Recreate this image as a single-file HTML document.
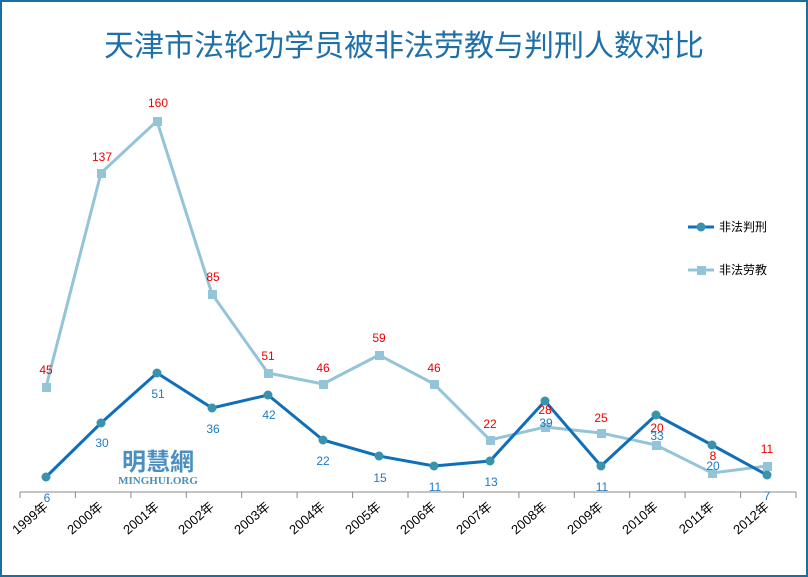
<!DOCTYPE html>
<html><head><meta charset="utf-8"><style>
body{margin:0;background:#fff}
svg{display:block;font-family:"Liberation Sans","Noto Sans CJK SC",sans-serif}
</style></head><body>
<svg width="808" height="577" viewBox="0 0 808 577">
<rect x="1" y="1" width="806" height="575" fill="#fff" stroke="#1a6fa0" stroke-width="2"/>
<text x="404" y="56" text-anchor="middle" font-size="30" fill="#1f6fa8">天津市法轮功学员被非法劳教与判刑人数对比</text>
<g stroke="#888" stroke-width="1">
<line x1="20" y1="492" x2="796" y2="492"/>
<path d="M20 492v6M75.4 492v6M130.9 492v6M186.3 492v6M241.7 492v6M297.1 492v6M352.6 492v6M408 492v6M463.4 492v6M518.9 492v6M574.3 492v6M629.7 492v6M685.1 492v6M740.6 492v6M796 492v6"/>
</g>
<g font-size="13" fill="#000">
<text transform="translate(49,508) rotate(-40)" text-anchor="end">1999年</text>
<text transform="translate(104,508) rotate(-40)" text-anchor="end">2000年</text>
<text transform="translate(160,508) rotate(-40)" text-anchor="end">2001年</text>
<text transform="translate(215,508) rotate(-40)" text-anchor="end">2002年</text>
<text transform="translate(271,508) rotate(-40)" text-anchor="end">2003年</text>
<text transform="translate(326,508) rotate(-40)" text-anchor="end">2004年</text>
<text transform="translate(382,508) rotate(-40)" text-anchor="end">2005年</text>
<text transform="translate(437,508) rotate(-40)" text-anchor="end">2006年</text>
<text transform="translate(493,508) rotate(-40)" text-anchor="end">2007年</text>
<text transform="translate(548,508) rotate(-40)" text-anchor="end">2008年</text>
<text transform="translate(604,508) rotate(-40)" text-anchor="end">2009年</text>
<text transform="translate(659,508) rotate(-40)" text-anchor="end">2010年</text>
<text transform="translate(715,508) rotate(-40)" text-anchor="end">2011年</text>
<text transform="translate(770,508) rotate(-40)" text-anchor="end">2012年</text>
</g>
<text x="158" y="470" text-anchor="middle" font-size="24" font-weight="bold" fill="#4a8fbf">明慧網</text>
<text x="158" y="484" text-anchor="middle" font-size="11" font-family="Liberation Serif,serif" font-weight="bold" fill="#4a8fbf">MINGHUI.ORG</text>
<polyline fill="none" stroke="#93c4d8" stroke-width="3" points="46,387 101,173 157,121 212,294 268,373 323,384 379,355 434,384 490,440 545,427 601,433 656,445 712,473 767,466"/>
<g fill="#93c4d8">
<rect x="42" y="383" width="9" height="9"/><rect x="97" y="169" width="9" height="9"/><rect x="153" y="117" width="9" height="9"/><rect x="208" y="290" width="9" height="9"/><rect x="264" y="369" width="9" height="9"/><rect x="319" y="380" width="9" height="9"/><rect x="375" y="351" width="9" height="9"/><rect x="430" y="380" width="9" height="9"/><rect x="486" y="436" width="9" height="9"/><rect x="541" y="423" width="9" height="9"/><rect x="597" y="429" width="9" height="9"/><rect x="652" y="441" width="9" height="9"/><rect x="708" y="469" width="9" height="9"/><rect x="763" y="462" width="9" height="9"/>
</g>
<polyline fill="none" stroke="#0f6fba" stroke-width="3" points="46,477 101,423 157,373 212,408 268,395 323,440 379,456 434,466 490,461 545,401 601,466 656,415 712,445 767,475"/>
<g fill="#3a93ad">
<circle cx="46" cy="477" r="4.5"/><circle cx="101" cy="423" r="4.5"/><circle cx="157" cy="373" r="4.5"/><circle cx="212" cy="408" r="4.5"/><circle cx="268" cy="395" r="4.5"/><circle cx="323" cy="440" r="4.5"/><circle cx="379" cy="456" r="4.5"/><circle cx="434" cy="466" r="4.5"/><circle cx="490" cy="461" r="4.5"/><circle cx="545" cy="401" r="4.5"/><circle cx="601" cy="466" r="4.5"/><circle cx="656" cy="415" r="4.5"/><circle cx="712" cy="445" r="4.5"/><circle cx="767" cy="475" r="4.5"/>
</g>
<g font-size="12" fill="#e00" text-anchor="middle">
<text x="46" y="374">45</text><text x="102" y="161">137</text><text x="158" y="107">160</text><text x="213" y="281">85</text><text x="268" y="360">51</text><text x="323" y="372">46</text><text x="379" y="342">59</text><text x="434" y="372">46</text><text x="490" y="428">22</text><text x="545" y="414">28</text><text x="601" y="422">25</text><text x="657" y="432">20</text><text x="713" y="460">8</text><text x="767" y="453">11</text>
</g>
<g font-size="12" fill="#1f7ac4" text-anchor="middle">
<text x="47" y="502">6</text><text x="102" y="447">30</text><text x="158" y="398">51</text><text x="213" y="433">36</text><text x="269" y="419">42</text><text x="323" y="465">22</text><text x="380" y="482">15</text><text x="435" y="491">11</text><text x="491" y="486">13</text><text x="546" y="427">39</text><text x="602" y="491">11</text><text x="657" y="440">33</text><text x="713" y="470">20</text><text x="767" y="500">7</text>
</g>
<line x1="688" y1="227" x2="714" y2="227" stroke="#0f6fba" stroke-width="3"/><circle cx="701" cy="227" r="4.5" fill="#3a93ad"/>
<text x="719" y="231" font-size="12" fill="#000">非法判刑</text>
<line x1="688" y1="270" x2="714" y2="270" stroke="#93c4d8" stroke-width="3"/><rect x="697" y="266" width="9" height="9" fill="#93c4d8"/>
<text x="719" y="274" font-size="12" fill="#000">非法劳教</text>
</svg>
</body></html>
